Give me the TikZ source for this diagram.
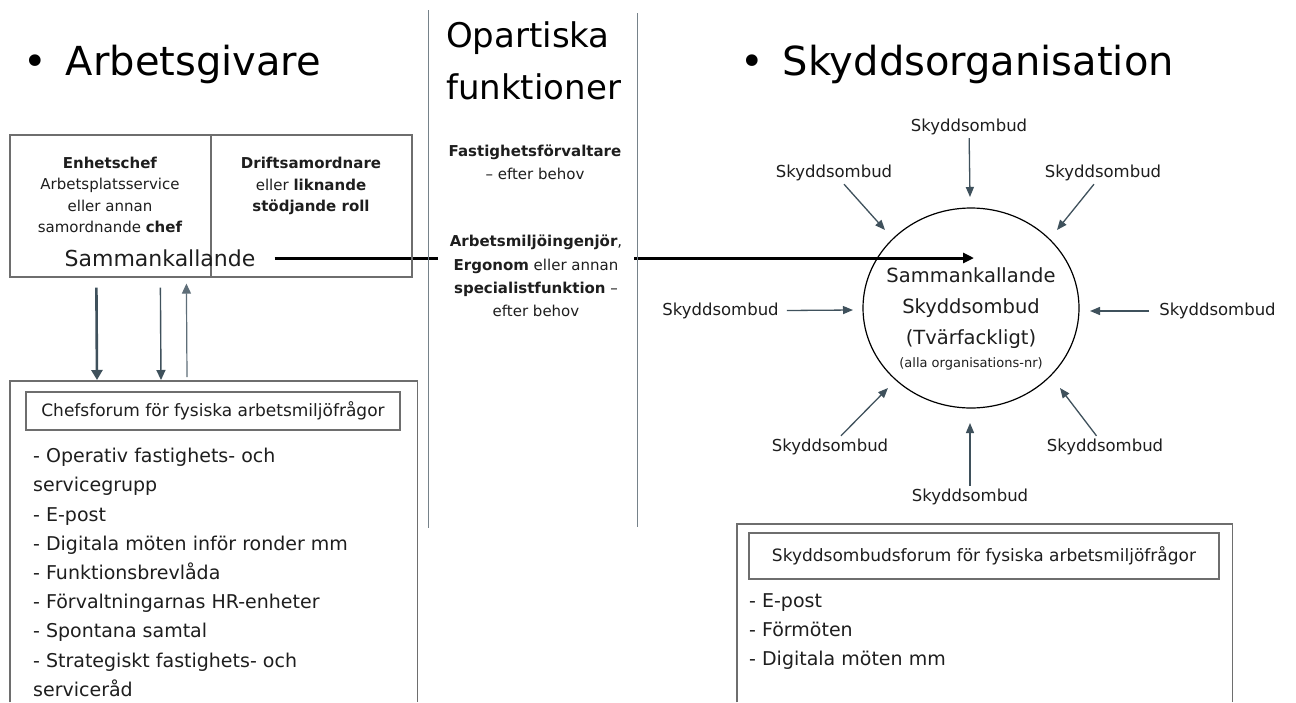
\documentclass[tikz,border=0pt]{standalone}
\usepackage{fontspec}
\setmainfont{DejaVu Sans}
\usetikzlibrary{arrows.meta,calc,backgrounds,shapes.geometric}
\definecolor{slate}{HTML}{3F515C}
\definecolor{slatelight}{HTML}{5E6E78}
\definecolor{boxgray}{HTML}{6E6E6E}
\definecolor{sepgray}{HTML}{76828A}
\definecolor{txt}{HTML}{1E1E1E}
\begin{document}
\begin{tikzpicture}[x=1pt,y=-1pt,
  every node/.style={text=txt},
  boxline/.style={draw=boxgray, line width=1.2pt},
  sepline/.style={draw=sepgray, line width=1pt},
  lbl/.style={font=\fontsize{16.5}{20}\selectfont, inner sep=3pt},
  sarr/.style={draw=slate, line width=1.3pt, -{Triangle[length=10pt,width=8pt]}},
  smalltxt/.style={font=\fontsize{15}{21.5}\selectfont, align=center, inner sep=0pt},
  listtxt/.style={font=\fontsize{19}{29.2}\selectfont, align=left, inner sep=0pt, anchor=north west},
  head/.style={font=\fontsize{40}{48}\selectfont, inner sep=0pt, anchor=base west, text=black},
]
\useasboundingbox (0,0) rectangle (1296,702);

% headings
\node[head] (hArb) at (23,75) {•\hspace{19pt}Arbetsgivare};
\node[head] (hSky) at (740,75) {•\hspace{19pt}Skyddsorganisation};
\node[font=\fontsize{34}{52}\selectfont, align=left, inner sep=0pt, anchor=west, text=black] (hOp) at (446,61) {Opartiska\\funktioner};

% separators
\draw[sepline] (428,10) -- (428,528);
\draw[sepline] (637,13) -- (637,527);

% top-left box
\node[boxline, minimum width=402pt, minimum height=142pt, inner sep=0pt] (topbox) at (211,206) {};
\draw[boxline] (topbox.north) -- (topbox.south);
\node[smalltxt] (enh) at (110,195) {\textbf{Enhetschef}\\Arbetsplatsservice\\eller annan\\samordnande \textbf{chef}};
\node[smalltxt] (drift) at (311,186) {\textbf{Driftsamordnare}\\eller \textbf{liknande}\\\textbf{stödjande roll}};
\node[font=\fontsize{22}{26}\selectfont, inner sep=3pt] (samm) at (160,258) {Sammankallande};

% centre column
\node[font=\fontsize{15}{23}\selectfont, align=center, inner sep=0pt] (fast) at (535,162) {\textbf{Fastighetsförvaltare}\\– efter behov};
\node[font=\fontsize{15}{23.3}\selectfont, align=center, fill=white, inner xsep=12pt, inner ysep=2pt] (arbm) at (536,276) {\textbf{Arbetsmiljöingenjör},\\\textbf{Ergonom} eller annan\\\textbf{specialistfunktion} –\\efter behov};

% circle
\node[ellipse, draw=black, line width=1.2pt, minimum width=216pt, minimum height=200pt, inner sep=0pt] (circ) at (971,308) {};
\node[align=center, inner sep=0pt, font=\fontsize{19.5}{31}\selectfont] (circtxt) at (971,308) {Sammankallande\\Skyddsombud\\(Tvärfackligt)};
\node[font=\fontsize{13}{16}\selectfont, inner sep=0pt] (circsmall) at (971,363.5) {(alla organisations-nr)};
\coordinate (tip0) at (974,258);

% Skyddsombud labels
\node[lbl] (s1) at (969,127) {Skyddsombud};
\node[lbl] (s2) at (834,173) {Skyddsombud};
\node[lbl] (s3) at (1103,173) {Skyddsombud};
\node[lbl] (s4) at (720.5,311) {Skyddsombud};
\node[lbl] (s5) at (1217.5,311) {Skyddsombud};
\node[lbl] (s6) at (830,447) {Skyddsombud};
\node[lbl] (s7) at (1105,447) {Skyddsombud};
\node[lbl] (s8) at (970,497) {Skyddsombud};
\coordinate (t1) at (970,197);
\coordinate (t2) at (885,230);
\coordinate (t3) at (1057,230);
\coordinate (t4) at (853,310);
\coordinate (t5) at (1090,311);
\coordinate (t6) at (888,388);
\coordinate (t7) at (1060,388);
\coordinate (t8) at (970,423);
\draw[sarr] (s1) -- (t1);
\draw[sarr] (s2) -- (t2);
\draw[sarr] (s3) -- (t3);
\draw[sarr, shorten <=5pt] (s4) -- (t4);
\draw[sarr, shorten <=7pt] (s5) -- (t5);
\draw[sarr] (s6) -- (t6);
\draw[sarr] (s7) -- (t7);
\draw[sarr] (s8) -- (t8);

% bottom-left box
\node[minimum width=407pt, minimum height=321pt, inner sep=0pt, anchor=north west] (chefbox) at (10,381) {};
\draw[boxline] (chefbox.south west) -- (chefbox.north west) -- (chefbox.north east) -- (chefbox.south east);
\node[boxline, minimum width=374pt, minimum height=38pt, inner sep=0pt, font=\fontsize{17}{20}\selectfont] (cheftitle) at (213,411) {Chefsforum för fysiska arbetsmiljöfrågor};
\node[listtxt] (cheflist) at (33,448) {- Operativ fastighets- och\\servicegrupp\\- E-post\\- Digitala möten inför ronder mm\\- Funktionsbrevlåda\\- Förvaltningarnas HR-enheter\\- Spontana samtal\\- Strategiskt fastighets- och\\serviceråd};

% arrows between top box and chef box
\draw[draw=slate, line width=2.6pt, -{Triangle[length=10pt,width=11pt]}] ($(topbox.south west)+(87,10)$) -- ($(chefbox.north west)+(87,-1)$);
\draw[draw=slate, line width=1.4pt, -{Triangle[length=10pt,width=9pt]}] ($(topbox.south west)+(151,10)$) -- ($(chefbox.north west)+(151,-1)$);
\draw[draw=slatelight, line width=1.2pt, -{Triangle[length=10pt,width=9pt]}] ($(chefbox.north west)+(177,-4)$) -- ($(topbox.south west)+(177,6)$);

% bottom-right box
\node[minimum width=495pt, minimum height=178pt, inner sep=0pt, anchor=north west] (skbox) at (737,524) {};
\draw[boxline] (skbox.south west) -- (skbox.north west) -- (skbox.north east) -- (skbox.south east);
\node[boxline, minimum width=470pt, minimum height=46pt, inner sep=0pt, font=\fontsize{17}{20}\selectfont] (sktitle) at (984,556) {Skyddsombudsforum för fysiska arbetsmiljöfrågor};
\node[listtxt] (sklist) at (749,593) {- E-post\\- Förmöten\\- Digitala möten mm};

\begin{pgfonlayer}{background}
  \fill[white] (0,0) rectangle (1296,702);
  \draw[line width=3pt, -{Triangle[length=11pt,width=10pt]}, shorten <=16pt] (samm.east) -- (tip0);
\end{pgfonlayer}
\end{tikzpicture}
\end{document}
